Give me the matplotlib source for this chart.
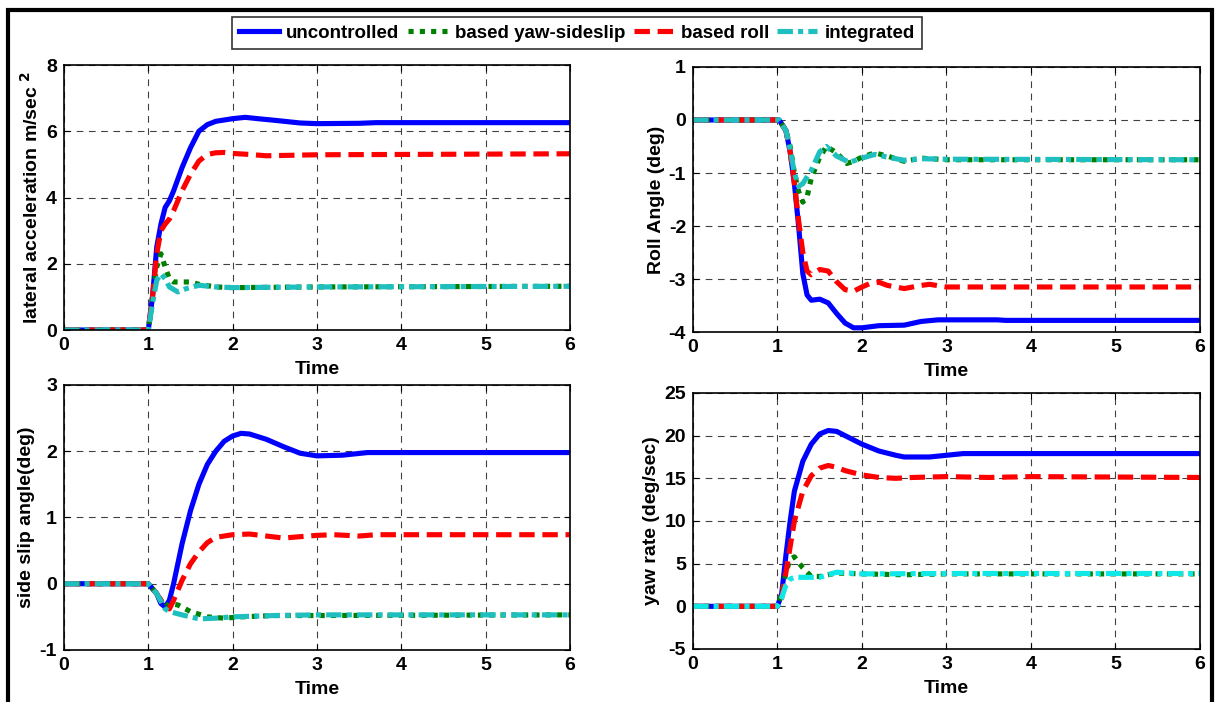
import numpy as np
import matplotlib.pyplot as plt
from matplotlib.patches import Rectangle

plt.rcParams['font.family'] = ['Liberation Sans', 'DejaVu Sans']
plt.rcParams['font.weight'] = 'bold'
plt.rcParams['axes.unicode_minus'] = False

# temps (s) et valeurs lues sur la figure
# accélération latérale
t_ay_u = [0, 1.0, 1.05, 1.1, 1.15, 1.2, 1.25, 1.3, 1.4, 1.5, 1.6, 1.7, 1.8, 2.0, 2.15, 2.3, 2.5, 2.8, 3.0, 3.5, 3.7, 6.0]
ay_u = [0, 0, 1.0, 2.5, 3.2, 3.7, 3.9, 4.2, 4.9, 5.5, 6.0, 6.2, 6.3, 6.38, 6.42, 6.38, 6.33, 6.25, 6.23, 6.24, 6.26, 6.26]
t_ay_r = [0, 1.0, 1.05, 1.1, 1.15, 1.2, 1.25, 1.3, 1.4, 1.5, 1.6, 1.7, 1.8, 1.9, 2.0, 2.2, 2.4, 2.6, 3.0, 6.0]
ay_r = [0, 0, 1.0, 2.3, 3.0, 3.2, 3.35, 3.6, 4.2, 4.7, 5.1, 5.3, 5.35, 5.36, 5.33, 5.3, 5.26, 5.27, 5.29, 5.32]
t_ay_y = [0, 1.0, 1.05, 1.1, 1.15, 1.2, 1.25, 1.3, 1.4, 1.5, 1.6, 1.8, 2.0, 3.0, 6.0]
ay_y = [0, 0, 1.0, 1.9, 2.3, 1.9, 1.55, 1.45, 1.45, 1.45, 1.38, 1.3, 1.28, 1.3, 1.32]
t_ay_i = [0, 1.0, 1.05, 1.1, 1.15, 1.2, 1.25, 1.35, 1.45, 1.6, 1.8, 2.0, 3.0, 6.0]
ay_i = [0, 0, 0.8, 1.5, 1.7, 1.55, 1.3, 1.15, 1.25, 1.35, 1.3, 1.28, 1.3, 1.32]

# angle de roulis
t_ph_u = [0, 1.02, 1.1, 1.15, 1.2, 1.25, 1.3, 1.35, 1.4, 1.5, 1.6, 1.7, 1.8, 1.9, 2.0, 2.2, 2.5, 2.7, 2.9, 3.6, 3.7, 6.0]
ph_u = [0, 0, -0.2, -0.6, -1.2, -2.0, -2.9, -3.3, -3.4, -3.38, -3.45, -3.65, -3.83, -3.92, -3.92, -3.88, -3.87, -3.8, -3.77, -3.77, -3.78, -3.78]
t_ph_r = [0, 1.02, 1.1, 1.15, 1.2, 1.25, 1.3, 1.35, 1.4, 1.5, 1.6, 1.7, 1.8, 1.9, 2.0, 2.1, 2.2, 2.3, 2.5, 2.7, 2.8, 3.0, 6.0]
ph_r = [0, 0, -0.2, -0.6, -1.2, -1.9, -2.5, -2.85, -2.92, -2.82, -2.85, -3.05, -3.2, -3.23, -3.15, -3.08, -3.06, -3.12, -3.18, -3.12, -3.1, -3.15, -3.15]
t_ph_y = [0, 1.02, 1.1, 1.15, 1.2, 1.25, 1.3, 1.35, 1.4, 1.5, 1.58, 1.7, 1.82, 1.9, 2.0, 2.15, 2.3, 2.5, 2.7, 3.0, 6.0]
ph_y = [0, 0, -0.2, -0.5, -1.0, -1.35, -1.55, -1.45, -1.1, -0.7, -0.5, -0.62, -0.82, -0.78, -0.7, -0.62, -0.68, -0.78, -0.72, -0.75, -0.75]
t_ph_i = [0, 1.02, 1.1, 1.15, 1.2, 1.25, 1.3, 1.4, 1.5, 1.58, 1.7, 1.85, 2.0, 2.15, 2.3, 2.5, 2.7, 3.0, 6.0]
ph_i = [0, 0, -0.2, -0.55, -1.0, -1.25, -1.2, -0.95, -0.6, -0.5, -0.68, -0.8, -0.72, -0.65, -0.7, -0.76, -0.73, -0.74, -0.75]

# angle de dérive
t_b_u = [0, 1.0, 1.1, 1.15, 1.2, 1.25, 1.3, 1.4, 1.5, 1.6, 1.7, 1.8, 1.9, 2.0, 2.1, 2.2, 2.4, 2.6, 2.8, 3.0, 3.3, 3.6, 6.0]
b_u = [0, 0, -0.15, -0.3, -0.35, -0.25, 0.0, 0.6, 1.1, 1.5, 1.8, 2.0, 2.15, 2.23, 2.27, 2.26, 2.18, 2.07, 1.97, 1.93, 1.94, 1.98, 1.98]
t_b_r = [0, 1.0, 1.1, 1.2, 1.25, 1.3, 1.4, 1.5, 1.6, 1.7, 1.8, 2.0, 2.2, 2.4, 2.6, 2.8, 3.0, 3.2, 3.5, 3.7, 6.0]
b_r = [0, 0, -0.15, -0.35, -0.38, -0.25, 0.05, 0.3, 0.48, 0.62, 0.7, 0.74, 0.75, 0.72, 0.69, 0.71, 0.73, 0.74, 0.72, 0.74, 0.74]
t_b_y = [0, 1.0, 1.1, 1.2, 1.25, 1.35, 1.5, 1.7, 1.9, 2.1, 2.5, 3.0, 6.0]
b_y = [0, 0, -0.15, -0.35, -0.3, -0.32, -0.42, -0.5, -0.52, -0.5, -0.48, -0.48, -0.47]
t_b_i = [0, 1.0, 1.1, 1.2, 1.25, 1.4, 1.6, 1.8, 2.0, 2.5, 3.0, 6.0]
b_i = [0, 0, -0.15, -0.38, -0.42, -0.47, -0.53, -0.52, -0.5, -0.48, -0.47, -0.47]

# vitesse de lacet
t_r_u = [0, 1.0, 1.05, 1.1, 1.15, 1.2, 1.3, 1.4, 1.5, 1.6, 1.7, 1.8, 2.0, 2.2, 2.4, 2.5, 2.8, 3.0, 3.2, 6.0]
r_u = [0, 0, 1.5, 6, 10, 13.5, 17, 19, 20.2, 20.6, 20.5, 20.0, 19.0, 18.2, 17.7, 17.5, 17.5, 17.7, 17.9, 17.9]
t_r_r = [0, 1.0, 1.05, 1.1, 1.15, 1.2, 1.3, 1.4, 1.5, 1.6, 1.7, 1.8, 2.0, 2.2, 2.4, 2.6, 3.0, 3.5, 4.0, 6.0]
r_r = [0, 0, 1.0, 4, 7, 10, 13.5, 15.3, 16.2, 16.5, 16.3, 15.9, 15.4, 15.1, 15.0, 15.1, 15.2, 15.1, 15.2, 15.1]
t_r_y = [0, 1.0, 1.05, 1.1, 1.15, 1.2, 1.3, 1.4, 1.5, 1.7, 2.0, 2.5, 3.0, 6.0]
r_y = [0, 0, 1.5, 4, 5.5, 5.8, 4.5, 3.5, 3.5, 3.9, 3.8, 3.7, 3.8, 3.8]
t_r_i = [0, 1.0, 1.05, 1.1, 1.15, 1.2, 1.5, 1.7, 2.0, 3.0, 6.0]
r_i = [0, 0, 1.0, 2.5, 3.2, 3.4, 3.4, 4.0, 3.8, 3.85, 3.85]

labels = ['uncontrolled', 'based yaw-sideslip', 'based roll', 'integrated']

fig = plt.figure(figsize=(12.16, 7.02), dpi=100)

pos = {
    'tl': [0.0526, 0.5299, 0.4161, 0.3775],
    'tr': [0.5699, 0.5270, 0.4169, 0.3776],
    'bl': [0.0526, 0.0741, 0.4161, 0.3775],
    'br': [0.5699, 0.0755, 0.4169, 0.3647],
}

lw = 3.7
def trace(ax, data, cyan, ylim, yticks, ylabel):
    (tu, u), (ty, y), (tr, r), (ti, i) = data
    ax.plot(tu, u, color='blue', lw=lw, ls='-', label=labels[0])
    ax.plot(ty, y, color=(0, 0.5, 0), lw=lw, ls=(0, (1, 1.2)), label=labels[1])
    ax.plot(tr, r, color='red', lw=lw, ls=(0, (3, 1.5)), label=labels[2])
    ax.plot(ti, i, color=cyan, lw=lw, ls=(0, (3, 1, 1, 1)), label=labels[3])
    ax.set_xlim(0, 6)
    ax.set_ylim(*ylim)
    ax.set_yticks(yticks)
    ax.set_xticks(range(7))
    ax.grid(True, color='black', ls=(0, (6, 5)), lw=0.8, alpha=0.75)
    ax.tick_params(labelsize=14, direction='in', length=4, top=True, right=True, pad=5)
    ax.set_xlabel('Time', fontsize=14, fontweight='bold', labelpad=5)
    ax.set_ylabel(ylabel, fontsize=14, fontweight='bold', labelpad=3)
    for s in ax.spines.values():
        s.set_linewidth(1.2)

ax1 = fig.add_axes(pos['tl'])
trace(ax1, [(t_ay_u, ay_u), (t_ay_y, ay_y), (t_ay_r, ay_r), (t_ay_i, ay_i)], '#1fbfbf',
      (0, 8), range(0, 9, 2), 'lateral acceleration m/sec $^{\\mathbf{2}}$')

ax2 = fig.add_axes(pos['tr'])
trace(ax2, [(t_ph_u, ph_u), (t_ph_y, ph_y), (t_ph_r, ph_r), (t_ph_i, ph_i)], '#1fbfbf',
      (-4, 1), range(-4, 2), 'Roll Angle (deg)')

ax3 = fig.add_axes(pos['bl'])
trace(ax3, [(t_b_u, b_u), (t_b_y, b_y), (t_b_r, b_r), (t_b_i, b_i)], '#1fbfbf',
      (-1, 3), range(-1, 4), 'side slip angle(deg)')

ax4 = fig.add_axes(pos['br'])
trace(ax4, [(t_r_u, r_u), (t_r_y, r_y), (t_r_r, r_r), (t_r_i, r_i)], '#10e8e8',
      (-5, 25), range(-5, 26, 5), 'yaw rate (deg/sec)')

leg = fig.legend(*ax1.get_legend_handles_labels(), loc='center', bbox_to_anchor=(0.4745, 0.953),
                 ncol=4, frameon=True, fancybox=False, edgecolor='black',
                 handlelength=2.1, handletextpad=0.4, columnspacing=0.45, borderpad=0.4,
                 prop={'weight': 'bold', 'size': 13.5})
leg.get_frame().set_linewidth(1.2)

# cadre autour de la figure
fig.patches.append(Rectangle((0.0066, -0.05), 0.9901, 1.036, transform=fig.transFigure,
                             fill=False, edgecolor='black', lw=3))

fig.savefig('out.png', dpi=100)
